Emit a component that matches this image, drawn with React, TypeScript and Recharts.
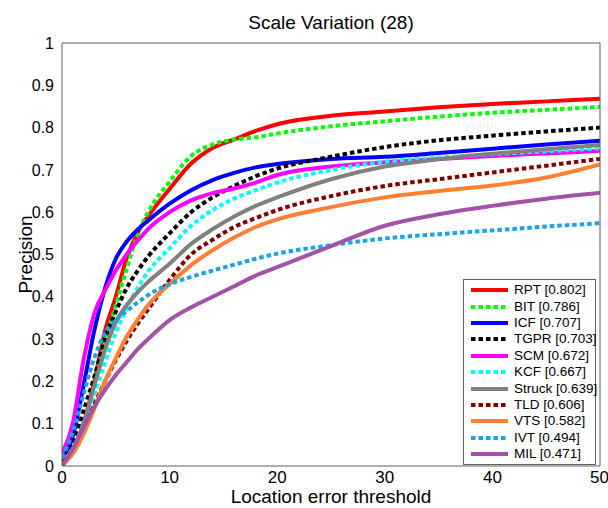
import { LineChart, Line, XAxis, YAxis, Legend } from 'recharts';

// location error thresholds (px) at which precision was sampled
const thresholds = [0, 1, 2, 3, 4, 5, 6, 7, 8, 10, 12, 14, 16, 18, 20, 25, 30, 35, 40, 45, 50];
const xTicks = [0, 10, 20, 30, 40, 50];
const yTicks = [0, 0.1, 0.2, 0.3, 0.4, 0.5, 0.6, 0.7, 0.8, 0.9, 1];

const rpt = [0.01, 0.04, 0.1, 0.2, 0.32, 0.4, 0.49, 0.55, 0.59, 0.655, 0.715, 0.752, 0.772, 0.792, 0.808, 0.828, 0.838, 0.848, 0.856, 0.862, 0.868];
const bit = [0.01, 0.03, 0.08, 0.19, 0.29, 0.38, 0.465, 0.545, 0.6, 0.672, 0.733, 0.76, 0.772, 0.777, 0.786, 0.803, 0.815, 0.826, 0.835, 0.842, 0.849];
const icf = [0.02, 0.07, 0.19, 0.32, 0.42, 0.49, 0.53, 0.558, 0.58, 0.62, 0.652, 0.676, 0.693, 0.706, 0.714, 0.726, 0.731, 0.74, 0.75, 0.76, 0.769];
const tgpr = [0.01, 0.05, 0.13, 0.21, 0.3, 0.365, 0.42, 0.46, 0.495, 0.55, 0.6, 0.635, 0.662, 0.685, 0.703, 0.731, 0.754, 0.77, 0.781, 0.791, 0.8];
const scm = [0.03, 0.1, 0.25, 0.36, 0.415, 0.462, 0.5, 0.532, 0.56, 0.6, 0.628, 0.645, 0.656, 0.67, 0.688, 0.708, 0.718, 0.726, 0.733, 0.739, 0.745];
const kcf = [0.01, 0.04, 0.1, 0.17, 0.245, 0.315, 0.372, 0.42, 0.46, 0.515, 0.568, 0.605, 0.632, 0.652, 0.67, 0.7, 0.719, 0.729, 0.737, 0.744, 0.751];
const struck = [0.01, 0.04, 0.1, 0.19, 0.275, 0.34, 0.38, 0.41, 0.435, 0.478, 0.525, 0.56, 0.59, 0.615, 0.635, 0.678, 0.708, 0.725, 0.738, 0.749, 0.759];
const tld = [0.01, 0.03, 0.085, 0.145, 0.2, 0.25, 0.295, 0.335, 0.37, 0.44, 0.5, 0.535, 0.565, 0.586, 0.605, 0.638, 0.662, 0.678, 0.694, 0.71, 0.726];
const vts = [0, 0.03, 0.075, 0.135, 0.2, 0.255, 0.305, 0.345, 0.38, 0.43, 0.475, 0.51, 0.54, 0.565, 0.583, 0.612, 0.635, 0.65, 0.663, 0.682, 0.713];
const ivt = [0.02, 0.08, 0.17, 0.255, 0.315, 0.345, 0.366, 0.386, 0.404, 0.43, 0.447, 0.462, 0.476, 0.49, 0.502, 0.522, 0.538, 0.548, 0.557, 0.566, 0.574];
const mil = [0, 0.04, 0.09, 0.14, 0.18, 0.215, 0.245, 0.275, 0.3, 0.345, 0.375, 0.4, 0.425, 0.45, 0.47, 0.52, 0.568, 0.595, 0.615, 0.632, 0.646];

const trackers = [
  { key: 'RPT', label: 'RPT [0.802]', color: '#ff0000', dashed: false, values: rpt },
  { key: 'BIT', label: 'BIT [0.786]', color: '#00ff00', dashed: true, values: bit },
  { key: 'ICF', label: 'ICF [0.707]', color: '#0000ff', dashed: false, values: icf },
  { key: 'TGPR', label: 'TGPR [0.703]', color: '#000000', dashed: true, values: tgpr },
  { key: 'SCM', label: 'SCM [0.672]', color: '#ff00ff', dashed: false, values: scm },
  { key: 'KCF', label: 'KCF [0.667]', color: '#00ffff', dashed: true, values: kcf },
  { key: 'Struck', label: 'Struck [0.639]', color: '#808080', dashed: false, values: struck },
  { key: 'TLD', label: 'TLD [0.606]', color: '#800000', dashed: true, values: tld },
  { key: 'VTS', label: 'VTS [0.582]', color: '#ff8033', dashed: false, values: vts },
  { key: 'IVT', label: 'IVT [0.494]', color: '#1aa3e8', dashed: true, values: ivt },
  { key: 'MIL', label: 'MIL [0.471]', color: '#a352a8', dashed: false, values: mil },
];

const data = thresholds.map((x, i) => {
  const row: Record<string, number> = { x };
  trackers.forEach((t) => {
    row[t.key] = t.values[i];
  });
  return row;
});

const FONT = '"Liberation Sans", Arial, Helvetica, sans-serif';
const AXIS = '#5f5f5f';
const DASH = '4.5 3';

function LegendBox() {
  return (
    <div
      style={{
        boxSizing: 'border-box',
        width: 133,
        height: 186,
        border: `1px solid ${AXIS}`,
        background: '#fff',
        paddingTop: 2,
        fontFamily: FONT,
        fontSize: 13.5,
        color: '#000',
      }}
    >
      {trackers.map((t) => (
        <div key={t.key} style={{ display: 'flex', alignItems: 'center', height: 16.4 }}>
          <svg width={50} height={8} style={{ flex: 'none' }}>
            <line
              x1={7}
              x2={44}
              y1={4}
              y2={4}
              stroke={t.color}
              strokeWidth={4}
              strokeDasharray={t.dashed ? DASH : undefined}
            />
          </svg>
          <span style={{ whiteSpace: 'nowrap', lineHeight: '16px' }}>{t.label}</span>
        </div>
      ))}
    </div>
  );
}

export default function App() {
  return (
    <div style={{ position: 'absolute', left: 0, top: 0, width: 608, height: 508, background: '#fff', fontFamily: FONT }}>
      <div
        style={{
          position: 'absolute',
          left: 62,
          top: 13,
          width: 538,
          textAlign: 'center',
          fontSize: 19,
          lineHeight: '19px',
          color: '#000',
        }}
      >
        Scale Variation (28)
      </div>
      <LineChart width={608} height={508} data={data} margin={{ top: 43, right: 8, bottom: 0, left: 0 }}>
        {/* labelled axes */}
        <XAxis
          xAxisId="b"
          dataKey="x"
          type="number"
          domain={[0, 50]}
          ticks={xTicks}
          allowDataOverflow
          height={42}
          tickLine={false}
          tickSize={0}
          tickMargin={5}
          axisLine={{ stroke: AXIS }}
          tick={{ fill: '#000', fontSize: 17, fontFamily: FONT }}
          label={{ value: 'Location error threshold', position: 'insideBottom', offset: 5, fill: '#000', fontSize: 19, fontFamily: FONT }}
        />
        <YAxis
          yAxisId="l"
          type="number"
          domain={[0, 1]}
          ticks={yTicks}
          allowDataOverflow
          width={62}
          tickLine={false}
          tickSize={0}
          tickMargin={8}
          axisLine={{ stroke: AXIS }}
          tickFormatter={(v) => String(v)}
          tick={{ fill: '#000', fontSize: 16, fontFamily: FONT }}
          label={({ viewBox }: any) => {
            const cx = viewBox.x + 32;
            const cy = viewBox.y + viewBox.height / 2;
            return (
              <text x={cx} y={cy} transform={`rotate(-90, ${cx}, ${cy})`} textAnchor="middle" fontSize={19} fontFamily={FONT} fill="#000">
                Precision
              </text>
            );
          }}
        />
        {/* inward tick marks on all four sides (box) */}
        <XAxis xAxisId="bm" type="number" domain={[0, 50]} ticks={xTicks} allowDataOverflow mirror tick={false} tickSize={5} tickLine={{ stroke: AXIS }} axisLine={false} />
        <XAxis xAxisId="t" orientation="top" type="number" domain={[0, 50]} ticks={xTicks} allowDataOverflow mirror tick={false} tickSize={5} tickLine={{ stroke: AXIS }} axisLine={{ stroke: AXIS }} />
        <YAxis yAxisId="lm" type="number" domain={[0, 1]} ticks={yTicks} allowDataOverflow mirror tick={false} tickSize={5} tickLine={{ stroke: AXIS }} axisLine={false} />
        <YAxis yAxisId="r" orientation="right" type="number" domain={[0, 1]} ticks={yTicks} allowDataOverflow mirror tick={false} tickSize={5} tickLine={{ stroke: AXIS }} axisLine={{ stroke: AXIS }} />
        {trackers.map((t) => (
          <Line
            key={t.key}
            xAxisId="b"
            yAxisId="l"
            type="monotone"
            dataKey={t.key}
            stroke={t.color}
            strokeWidth={4}
            strokeDasharray={t.dashed ? DASH : undefined}
            dot={false}
            activeDot={false}
            isAnimationActive={false}
          />
        ))}
        <Legend
          content={() => <LegendBox />}
          layout="horizontal"
          verticalAlign="middle"
          align="center"
          wrapperStyle={{ left: 463, top: 279, width: 133, height: 186 }}
        />
      </LineChart>
    </div>
  );
}
